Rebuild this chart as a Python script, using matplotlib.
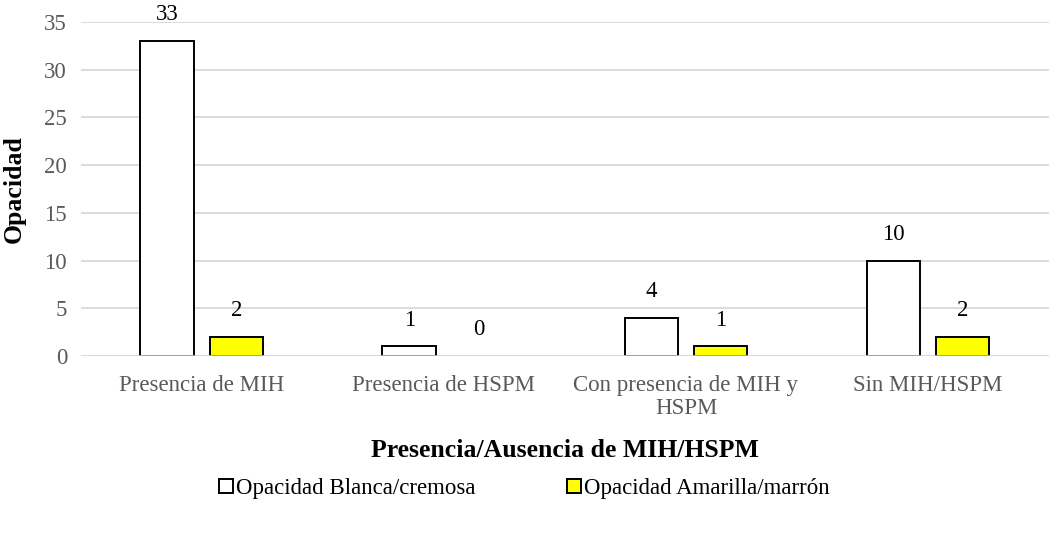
import numpy as np
import matplotlib.pyplot as plt

categorias = ["Presencia de MIH", "Presencia de HSPM", "Con presencia de MIH y\nHSPM", "Sin MIH/HSPM"]
blanca = [33, 1, 4, 10]
amarilla = [2, 0, 1, 2]
series = ["Opacidad Blanca/cremosa", "Opacidad Amarilla/marrón"]

plt.rcParams["font.family"] = ["Liberation Serif", "DejaVu Serif"]

fig = plt.figure(figsize=(10.49, 5.33), dpi=100)
ax = fig.add_axes([0.0772, 0.332, 0.9228, 0.6268])

x = np.arange(len(categorias))
w = 0.223
off = 0.1426
b1 = ax.bar(x - off, blanca, w, color="white", edgecolor="black", linewidth=1.4, label=series[0], zorder=3)
b2 = ax.bar(x + off, amarilla, w, color="#ffff00", edgecolor="black", linewidth=1.4, label=series[1], zorder=3)

# las barras de valor cero no se dibujan
for bars, vals in ((b1, blanca), (b2, amarilla)):
    for r, v in zip(bars, vals):
        if v == 0:
            r.set_linewidth(0)

# valores encima de cada barra
for bars, vals in ((b1, blanca), (b2, amarilla)):
    for r, v in zip(bars, vals):
        ax.annotate(str(v), (r.get_x() + r.get_width() / 2, v), xytext=(0, 19),
                    textcoords="offset points", ha="center", va="center",
                    fontsize=16.5, color="black", annotation_clip=False)

ax.set_xlim(-0.5, len(categorias) - 0.5)
ax.set_ylim(0, 35)
ax.set_yticks(range(0, 36, 5))
ax.set_xticks(x)
ax.set_xticklabels(categorias, linespacing=1.1)
ax.tick_params(axis="both", length=0, labelsize=16.5, labelcolor="#595959")
ax.tick_params(axis="x", pad=14)
ax.tick_params(axis="y", pad=10)
ax.grid(axis="y", color="#d9d9d9", linewidth=1.3, zorder=0)
ax.axhline(0, color="#d9d9d9", linewidth=1.8, zorder=4)
for s in ax.spines.values():
    s.set_visible(False)

ax.set_xlabel("Presencia/Ausencia de MIH/HSPM", fontsize=18.5, fontweight="bold", labelpad=14)
ax.set_ylabel("Opacidad", fontsize=18.5, fontweight="bold")
ax.yaxis.set_label_coords(-0.057, 0.5)

fig.legend(handles=[b1, b2], loc="center", bbox_to_anchor=(0.5, 0.083), ncol=2,
           frameon=False, fontsize=16.5, handlelength=0.6, handleheight=0.6,
           handletextpad=0.15, columnspacing=4.0)

fig.savefig("out.png", dpi=100)
